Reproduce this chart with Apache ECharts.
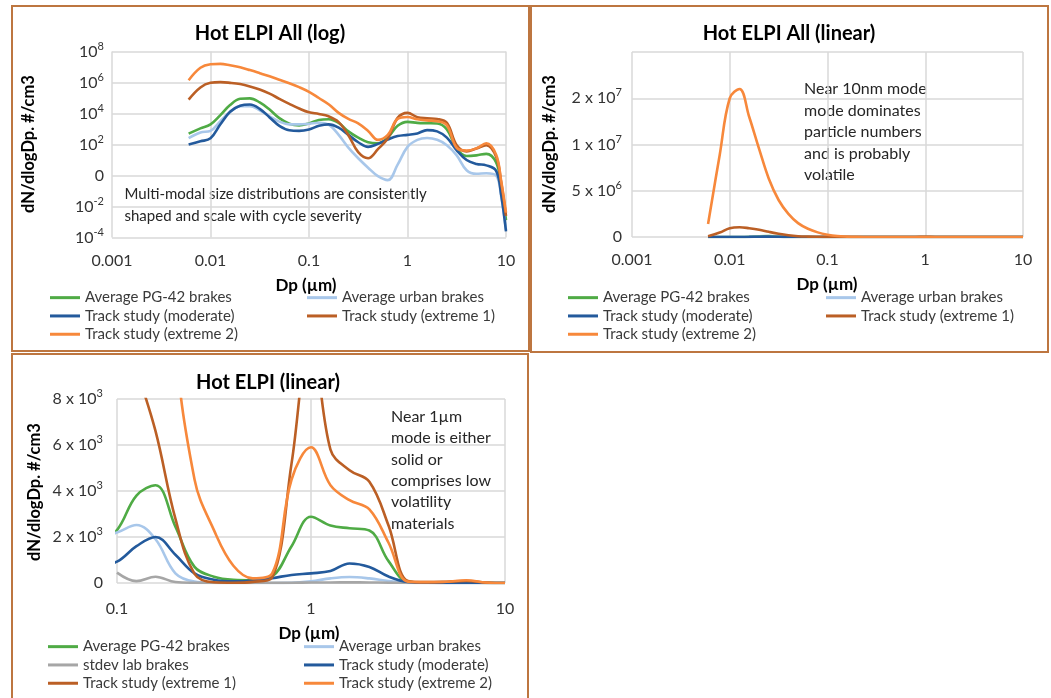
<!DOCTYPE html>
<html>
<head>
<meta charset="utf-8">
<script src="https://cdn.jsdelivr.net/npm/echarts@6/dist/echarts.min.js"></script>
<style>
  html, body { margin: 0; padding: 0; background: #ffffff; }
  #chart { width: 1051px; height: 698px; }
</style>
</head>
<body>
<div id="chart"></div>
<script>
// Particle diameter Dp (µm) of each sample point
const DIAMETERS = [0.006, 0.0079, 0.01, 0.0126, 0.0158, 0.02, 0.0251, 0.0316, 0.0398, 0.05,
  0.0631, 0.0794, 0.1, 0.126, 0.158, 0.2, 0.251, 0.316, 0.398, 0.501,
  0.631, 0.794, 1.0, 1.26, 1.58, 2.0, 2.51, 3.16, 3.98, 5.01,
  6.31, 7.94, 8.91, 10.0];

// dN/dlogDp (#/cm3) for each series at the diameters above
const PG42_AVG = [500, 1100, 2000, 7900, 35000, 89000, 95000, 52000, 18000, 5000,
  2200, 1700, 2300, 3800, 4250, 2450, 700, 275, 140, 120,
  280, 1600, 2880, 2500, 2380, 2280, 950, 55, 18, 20,
  25, 7, 0.25, 0.0013];
const URBAN_AVG = [260, 600, 760, 3200, 12600, 30000, 30000, 16000, 6600, 3000,
  2000, 2000, 2200, 2520, 1900, 420, 63, 13, 3.2, 0.9,
  0.5, 5, 70, 200, 260, 200, 90, 20, 2.2, 1.3,
  1.4, 1.0, 0.05, 0.0003];
const LAB_STDEV = [null, null, null, null, null, null, null, null, null, null,
  null, null, 450, 80, 270, 40, 10, 5, 4, 4,
  6, 10, 20, 25, 30, 25, 12, 5, 3, 3,
  4, 2, 1, 0.5];
const TRACK_MODERATE = [100, 160, 250, 2000, 13000, 32000, 38000, 20000, 5600, 1600,
  830, 760, 930, 1600, 2000, 1230, 420, 140, 70, 110,
  210, 350, 420, 520, 850, 700, 280, 42, 10, 5.6,
  4.5, 2, 0.063, 0.00025];
const TRACK_EXTREME1 = [79000, 480000, 950000, 1050000, 950000, 790000, 560000, 350000, 190000, 89000,
  42000, 21000, 12000, 9300, 6600, 2800, 400, 32, 13, 50,
  250, 5200, 11000, 5800, 4900, 4400, 2500, 90, 36, 56,
  89, 16, 0.4, 0.0025];
const TRACK_EXTREME2 = [1.4e6, 8.9e6, 1.5e7, 1.6e7, 1.3e7, 9.5e6, 6.3e6, 4.0e6, 2.5e6, 1.5e6,
  8.9e5, 5.0e5, 2.5e5, 1.0e5, 4.0e4, 11000, 4500, 2300, 750, 200,
  420, 4500, 5900, 4250, 3600, 3200, 1750, 60, 40, 56,
  120, 22, 0.5, 0.004];

// Tick values and their printed labels for the linear panels
const ALL_LINEAR_Y_TICKS = [0, 5e6, 1e7, 1.5e7, 2e7];
const ALL_LINEAR_Y_LABELS = ['{b|0}', '{b|5 x 10}{sup|6}', '{b|1 x 10}{sup|7}', '{b|2 x 10}{sup|7}', ''];
const ELPI_LINEAR_Y_TICKS = [0, 2000, 4000, 6000, 8000];
const ELPI_LINEAR_Y_LABELS = ['{b|0}', '{b|2 x 10}{sup|3}', '{b|4 x 10}{sup|3}', '{b|6 x 10}{sup|3}', '{b|8 x 10}{sup|3}'];

const NAMES = {
  pg42: 'Average PG-42 brakes',
  urban: 'Average urban brakes',
  stdev: 'stdev lab brakes',
  moderate: 'Track study (moderate)',
  ext1: 'Track study (extreme 1)',
  ext2: 'Track study (extreme 2)'
};

const FONT = 'Lato, "Liberation Sans", sans-serif';
const TEXT_COLOR = '#333333';
const GRID_COLOR = '#d9d9d9';
const BORDER_COLOR = '#bd7640';

const SERIES_DEFS = [
  { key: 'pg42', values: PG42_AVG, color: '#4fab45' },
  { key: 'urban', values: URBAN_AVG, color: '#a8c7ea' },
  { key: 'stdev', values: LAB_STDEV, color: '#a6a6a6' },
  { key: 'moderate', values: TRACK_MODERATE, color: '#235a9c' },
  { key: 'ext1', values: TRACK_EXTREME1, color: '#bb5f25' },
  { key: 'ext2', values: TRACK_EXTREME2, color: '#f7883b' }
];

function pairs(values) {
  const out = [];
  DIAMETERS.forEach(function (d, i) {
    if (values[i] != null) out.push([d, values[i]]);
  });
  return out;
}

function lineSeries(def, axisIndex) {
  return {
    type: 'line',
    name: NAMES[def.key],
    xAxisIndex: axisIndex,
    yAxisIndex: axisIndex,
    data: pairs(def.values),
    smooth: 0.38,
    symbol: 'none',
    showSymbol: false,
    clip: true,
    silent: true,
    lineStyle: { width: 2.6, color: def.color },
    itemStyle: { color: def.color },
    emphasis: { disabled: true }
  };
}

const richLabel = {
  b: { fontSize: 16, lineHeight: 22, fontFamily: FONT, color: TEXT_COLOR },
  sup: { fontSize: 11, lineHeight: 11, verticalAlign: 'top', fontFamily: FONT, color: TEXT_COLOR }
};

function logXAxis(gridIndex, min, max, margin) {
  return {
    type: 'log', logBase: 10, gridIndex: gridIndex, min: min, max: max,
    axisLine: { show: false }, axisTick: { show: false },
    splitLine: { show: true, lineStyle: { color: GRID_COLOR, width: 1.5 } },
    axisLabel: {
      margin: margin, fontSize: 16, fontFamily: FONT, color: TEXT_COLOR,
      formatter: function (v) {
        const e = Math.round(Math.log10(v));
        return e >= 0 ? String(Math.pow(10, e)) : Math.pow(10, e).toFixed(-e);
      }
    }
  };
}

function labelFromTable(ticks, labels) {
  return function (v) {
    for (let i = 0; i < ticks.length; i++) {
      if (Math.abs(v - ticks[i]) < 1e-6 * (ticks[ticks.length - 1] || 1)) return labels[i];
    }
    return '';
  };
}

function legend(left, top, keys) {
  return {
    left: left, top: top, orient: 'vertical', padding: 0,
    itemWidth: 30, itemHeight: 3, itemGap: 0, icon: 'rect',
    selectedMode: false,
    textStyle: { fontFamily: FONT, fontSize: 15, color: '#3a3a3a', lineHeight: 18.3 },
    data: keys.map(function (k) { return NAMES[k]; })
  };
}

function text(x, y, str, opts) {
  return Object.assign({
    type: 'text', x: x, y: y, silent: true,
    style: Object.assign({
      text: str, fontFamily: FONT, fill: '#000000',
      align: 'center', verticalAlign: 'middle'
    }, opts.style || {})
  }, opts.el || {});
}

const panelKeys = ['pg42', 'urban', 'moderate', 'ext1', 'ext2'];
const series = [];
SERIES_DEFS.forEach(function (d) { if (panelKeys.indexOf(d.key) >= 0) series.push(lineSeries(d, 0)); });
SERIES_DEFS.forEach(function (d) { if (panelKeys.indexOf(d.key) >= 0) series.push(lineSeries(d, 1)); });
SERIES_DEFS.forEach(function (d) { series.push(lineSeries(d, 2)); });

const option = {
  animation: false,
  backgroundColor: '#ffffff',
  grid: [
    { left: 112, top: 51.5, width: 394, height: 186 },
    { left: 632, top: 52, width: 391, height: 185 },
    { left: 117, top: 399, width: 388, height: 184 }
  ],
  xAxis: [
    logXAxis(0, 0.001, 10, 15),
    logXAxis(1, 0.001, 10, 15),
    logXAxis(2, 0.1, 10, 18)
  ],
  yAxis: [
    {
      // one tick every two decades
      type: 'log', logBase: 100, gridIndex: 0, min: 1e-4, max: 1e8,
      axisLine: { show: false }, axisTick: { show: false },
      splitLine: { show: true, lineStyle: { color: GRID_COLOR, width: 1.5 } },
      axisLabel: {
        margin: 8, rich: richLabel,
        formatter: function (v) {
          const e = Math.round(Math.log10(v));
          return e === 0 ? '{b|0}' : '{b|10}{sup|' + e + '}';
        }
      }
    },
    {
      type: 'value', gridIndex: 1, min: 0, max: 2e7, interval: 5e6,
      axisLine: { show: false }, axisTick: { show: false },
      splitLine: { show: true, lineStyle: { color: GRID_COLOR, width: 1.5 } },
      axisLabel: { margin: 10, rich: richLabel, formatter: labelFromTable(ALL_LINEAR_Y_TICKS, ALL_LINEAR_Y_LABELS) }
    },
    {
      type: 'value', gridIndex: 2, min: 0, max: 8000, interval: 2000,
      axisLine: { show: false }, axisTick: { show: false },
      splitLine: { show: true, lineStyle: { color: GRID_COLOR, width: 1.5 } },
      axisLabel: { margin: 14, rich: richLabel, formatter: labelFromTable(ELPI_LINEAR_Y_TICKS, ELPI_LINEAR_Y_LABELS) }
    }
  ],
  legend: [
    legend(50, 288.5, ['pg42', 'moderate', 'ext2']),
    legend(307, 288.5, ['urban', 'ext1']),
    legend(568, 288.5, ['pg42', 'moderate', 'ext2']),
    legend(826, 288.5, ['urban', 'ext1']),
    legend(48, 637.5, ['pg42', 'stdev', 'ext1']),
    legend(304, 637.5, ['urban', 'moderate', 'ext2'])
  ],
  series: series,
  graphic: [
    // panel frames
    { type: 'rect', silent: true, shape: { x: 12, y: 6, width: 517, height: 345 }, style: { fill: 'none', stroke: BORDER_COLOR, lineWidth: 2 } },
    { type: 'rect', silent: true, shape: { x: 531, y: 6, width: 517, height: 346 }, style: { fill: 'none', stroke: BORDER_COLOR, lineWidth: 2 } },
    { type: 'rect', silent: true, shape: { x: 12, y: 354, width: 516, height: 352 }, style: { fill: 'none', stroke: BORDER_COLOR, lineWidth: 2 } },

    // titles
    text(270, 33.5, 'Hot ELPI All (log)', { style: { fontSize: 20, fontWeight: 'bold' } }),
    text(789, 33.5, 'Hot ELPI All (linear)', { style: { fontSize: 20, fontWeight: 'bold' } }),
    text(268, 383, 'Hot ELPI (linear)', { style: { fontSize: 20, fontWeight: 'bold' } }),

    // y axis names
    text(28.5, 144, 'dN/dlogDp. #/cm3', { style: { fontSize: 16.5, fontWeight: 'bold' }, el: { rotation: Math.PI / 2 } }),
    text(550, 144, 'dN/dlogDp. #/cm3', { style: { fontSize: 16.5, fontWeight: 'bold' }, el: { rotation: Math.PI / 2 } }),
    text(35, 492, 'dN/dlogDp. #/cm3', { style: { fontSize: 16.5, fontWeight: 'bold' }, el: { rotation: Math.PI / 2 } }),

    // x axis names
    text(306, 286, 'Dp (µm)', { style: { fontSize: 17, fontWeight: 'bold' } }),
    text(827, 285, 'Dp (µm)', { style: { fontSize: 17, fontWeight: 'bold' } }),
    text(309, 634, 'Dp (µm)', { style: { fontSize: 17, fontWeight: 'bold' } }),

    // notes inside the plots
    text(124.5, 183.5, 'Multi-modal size distributions are consistently\nshaped and scale with cycle severity',
      { style: { fontSize: 15, lineHeight: 21.7, align: 'left', verticalAlign: 'top', fill: '#262626' } }),
    text(804, 78.5, 'Near 10nm mode\nmode dominates\nparticle numbers\nand is probably\nvolatile',
      { style: { fontSize: 16, lineHeight: 21.5, align: 'left', verticalAlign: 'top', fill: '#262626' } }),
    text(391, 406, 'Near 1µm\nmode is either\nsolid or\ncomprises low\nvolatility\nmaterials',
      { style: { fontSize: 16, lineHeight: 21.4, align: 'left', verticalAlign: 'top', fill: '#262626' } })
  ]
};

const chart = echarts.init(document.getElementById('chart'), null, { renderer: 'canvas' });
chart.setOption(option);
</script>
</body>
</html>
